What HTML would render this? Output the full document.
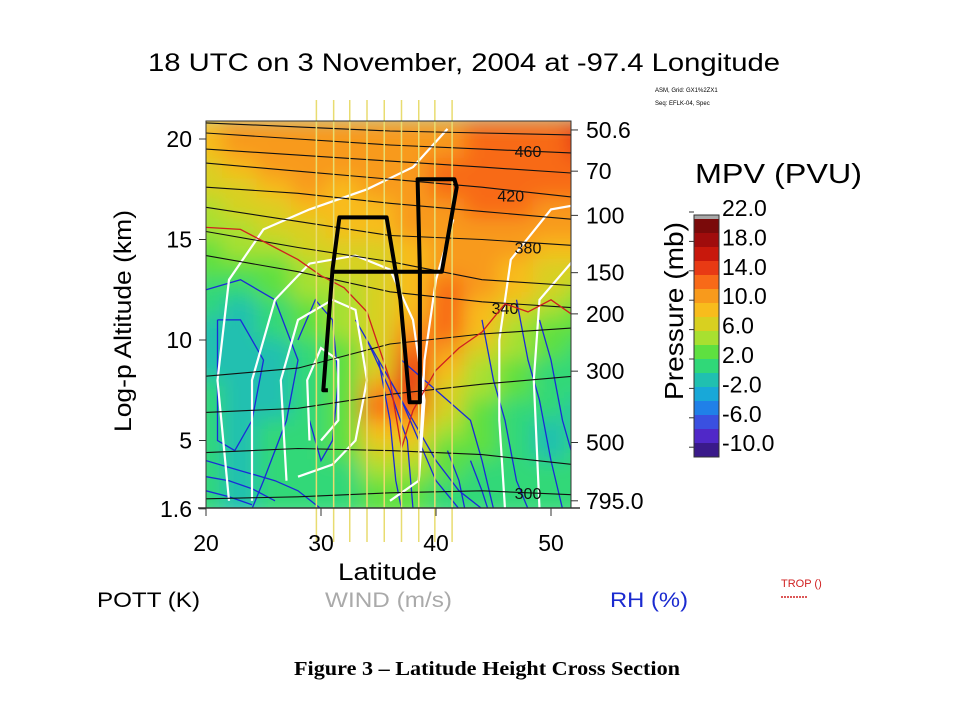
<!DOCTYPE html>
<html><head><meta charset="utf-8"><style>
html,body{margin:0;padding:0;background:#fff;}
svg{display:block;font-family:"Liberation Sans",sans-serif;}
</style></head><body>
<svg id="chart" width="960" height="720" viewBox="0 0 960 720" xmlns="http://www.w3.org/2000/svg">
<defs>
<clipPath id="plotclip"><rect x="206" y="121" width="365" height="387"/></clipPath>
<filter id="blur" x="-5%" y="-5%" width="110%" height="110%"><feGaussianBlur stdDeviation="10"/></filter>
</defs>
<rect width="960" height="720" fill="#fff"/>
<text x="148" y="71" font-size="25" textLength="632" lengthAdjust="spacingAndGlyphs">18 UTC on 3 November, 2004 at -97.4 Longitude</text>
<text x="655" y="92" font-size="6">ASM, Grid: GX1%2ZX1</text>
<text x="655" y="105" font-size="6">Seq: EFLK-04, Spec</text>
<g id="field" clip-path="url(#plotclip)"><g id="cells" filter="url(#blur)"></g></g>
<g id="overlays" clip-path="url(#plotclip)"></g>
<g id="vlines"></g>
<g id="path"></g>
<g id="axes"></g>
<g id="cbar"></g>
<text transform="translate(131,321) rotate(-90)" font-size="24" text-anchor="middle" textLength="222" lengthAdjust="spacingAndGlyphs">Log-p Altitude (km)</text>
<text x="338" y="580" font-size="24" textLength="99" lengthAdjust="spacingAndGlyphs">Latitude</text>
<text transform="translate(683,311) rotate(-90)" font-size="26" text-anchor="middle" textLength="178" lengthAdjust="spacingAndGlyphs">Pressure (mb)</text>
<text x="695" y="183" font-size="28" textLength="167" lengthAdjust="spacingAndGlyphs">MPV (PVU)</text>
<text x="97" y="607" font-size="21" textLength="103" lengthAdjust="spacingAndGlyphs">POTT (K)</text>
<text x="325" y="607" font-size="21" fill="#aaaaaa" textLength="127" lengthAdjust="spacingAndGlyphs">WIND (m/s)</text>
<text x="610" y="607" font-size="21" fill="#1a2ad0" textLength="78" lengthAdjust="spacingAndGlyphs">RH (%)</text>
<text x="781" y="587" font-size="11" fill="#d02020">TROP ()</text>
<line x1="781" y1="597" x2="808" y2="597" stroke="#d02020" stroke-width="1.5" stroke-dasharray="2,1"/>
<text x="294" y="675" font-size="20" font-weight="bold" textLength="386" lengthAdjust="spacingAndGlyphs" font-family="Liberation Serif, serif">Figure 3 – Latitude Height Cross Section</text>
</svg>
<script>
// ---- data ----
const lats = [20,23,26,29,32,35,38,41,44,47,50,53];
const alts = [20.5,19.5,18.5,17.5,16.5,15.5,14.5,13.5,12.5,11.5,10.5,9.5,8.5,7.5,6.5,5.5,4.5,3.5,2.5,1.6];
const mpv = [
[8,10,11,11,10,10,10,11,12,12,13,14],
[8,10,11,11,10,10,10,11,12,12,13,14],
[6,8,10,11,10,10,11,12,12,12,12,12],
[6,7,9,10,9,10,11,12,12,12,12,12],
[5,6,7,8,8,9,10,11,12,12,11,11],
[4,5,6,7,8,8,10,11,11,11,10,10],
[3,4,5,6,7,7,9,11,11,10,9,9],
[2,2,3,5,6,7,9,11,10,9,7,7],
[1,1,2,4,5,6,8,12,10,8,6,5],
[0,-1,0,3,4,6,9,12,9,6,4,3],
[-1,-1,0,2,4,6,10,12,8,5,3,2],
[-1,-2,-1,1,3,6,12,10,6,4,2,1],
[-1,-2,-1,1,3,7,14,8,5,3,1,0],
[0,-1,-1,0,3,10,14,7,4,2,0,0],
[0,-1,-1,0,3,12,12,6,3,1,0,-1],
[0,-1,0,0,2,8,8,4,2,0,-1,0],
[0,-1,0,0,2,6,6,3,2,0,-1,0],
[0,-1,0,0,1,4,4,2,1,0,0,1],
[0,-1,0,0,1,3,3,1,1,0,0,1],
[0,-1,0,0,1,3,3,1,1,0,0,1]];
const cbarLabels = ["22.0","18.0","14.0","10.0","6.0","2.0","-2.0","-6.0","-10.0"];
const cbarColors = ["#a8a8a8","#7a0a0a","#a00c0c","#c8180c","#e83a14","#f86a18","#f89a1c","#f8bc1c","#d8d020","#a8e030","#5ee040","#30d878","#20c0b0","#18a8d8","#2080e8","#3a50e0","#5028c8","#3a1a8a"];
const xTicks = [20,30,40,50];
const yTicks = [20,15,10,5,1.6];
const pTickAlts = [20.45,18.4,16.2,13.35,11.3,8.45,4.9,2.0];
const pTickLabels = ["50.6","70","100","150","200","300","500","795.0"];
const flightLats = [30.6,30.2,31.0,31.6,35.7,36.9,37.7,38.6,38.6,38.4,41.6,41.8,40.5,31.0];
const flightAlts = [7.5,7.5,13.5,16.1,16.1,12.0,6.9,6.9,13.4,18.0,18.0,17.6,13.4,13.4];
const dropLats = [29.6,31.1,32.5,34.0,35.5,37.0,38.5,39.9,41.4];
const thetaLats = [20,28,36,44,52];
const thetaAlts = [
[20.8,20.6,20.4,20.3,20.2],[20.3,20.0,19.7,19.5,19.3],[19.5,19.2,18.9,18.6,18.3],
[18.8,18.4,18.0,17.6,17.1],[17.6,17.3,16.8,16.4,16.0],[16.6,15.9,15.2,15.0,14.7],
[15.4,14.6,13.9,13.0,12.7],[14.2,13.4,12.4,11.9,11.6],[8.2,8.6,9.8,10.3,10.6],
[6.4,6.6,7.3,7.8,8.2],[4.4,4.6,4.5,4.3,3.8],[2.1,2.2,2.4,2.5,2.3]];
const thetaLabels = [["460",48,19.4],["420",46.5,17.2],["380",48,14.6],["340",46,11.6],["300",48,2.4]];
const tropLats = [20,23,26,28,30,32,34,36,37,38,40,42,44,46,48,50,52];
const tropAlts = [15.6,15.5,14.6,14.0,13.2,12.6,11.4,8.0,4.6,6.5,8.5,9.6,10.4,11.8,11.4,12.0,11.2];
const windCurves = [
[[22,2],[21,8],[22,13],[25,15.5],[29,16.5],[34,17.5],[38,18.6],[41,20.5]],
[[24,2],[24,8],[26,12],[29,13.8],[33,14.2],[36,13.5],[38,11],[39,7],[38.5,3],[36,2]],
[[27,3],[26.5,8],[28,11],[31,12],[33,11.5],[34,8],[33,5],[31,3.8],[28,3.2]],
[[29,5],[28.8,8],[30,9.6],[31.5,9],[31.5,6],[30,5]],
[[46,1.6],[45.5,6],[45.5,10],[46.5,14],[50,16.5],[53,16.8]],
[[49,1.6],[48.5,8],[49,12],[52,14]],
[[38.5,3],[39,9],[40,13],[41.5,16]]];
const rhCurves = [
[[20,12.5],[23,13],[26,12],[28,9],[27,6],[25,3],[24,1.6]],
[[21,11],[23,11],[25,9],[24,6],[22.5,4.5],[21,5],[21,9],[21,11]],
[[20,4],[23,3.5],[26,3],[28,2.5],[30,1.6]],
[[20,3.2],[22,3],[24,2.6],[26,2]],
[[20,2.5],[22,2.2],[24,1.8]],
[[28,10],[29.5,12],[31,11],[31.5,8],[31,5],[30,4],[29,6]],
[[33,11],[35,9],[36,6],[36.5,3],[37,1.6]],
[[34,10],[36,7.5],[37.5,5],[38,1.6]],
[[35,9],[37,7],[38.5,5],[40,3],[42,1.6]],
[[36,8],[38,6],[40,4],[42,2.5],[44,1.6]],
[[37,9],[39,8],[41,7],[43,6],[44,4],[45,1.6]],
[[44,11],[45,8],[46,6],[47,3],[48,1.6]],
[[47,12],[48,9],[49,7],[50,4],[51,1.6]],
[[49,11],[50,9],[51,6],[52,4]],
[[43,4],[44,2.5],[44.5,1.6]],[[41,4.5],[42,3],[42.5,1.6]]];

// ---- scales ----
const X = lat => 206 + (lat-20)*11.5;
const Y = z => 139 + (20-z)*20.1;
const NS = "http://www.w3.org/2000/svg";
function mk(tag, attrs, parent){const e=document.createElementNS(NS,tag);for(const k in attrs)e.setAttribute(k,attrs[k]);parent.appendChild(e);return e;}
function colorFor(v){let i=Math.round((22-v)/2);i=Math.max(1,Math.min(cbarColors.length-1,i));return cbarColors[i];}
function pts(arr){return arr.map(p=>X(p[0]).toFixed(1)+","+Y(p[1]).toFixed(1)).join(" ");}

const cells=document.getElementById("cells");
mk("rect",{x:196,y:111,width:385,height:407,fill:"#30d080"},cells);
for(let r=0;r<alts.length;r++){for(let c=0;c<lats.length;c++){
 const x0=X(lats[c]-1.5), y0=Y(alts[r]+0.5);
 const rc=mk("rect",{x:x0-1,y:y0-1,width:3*11.5+2,height:20.1+2,fill:colorFor(mpv[r][c])},cells);
 
 
}}

const ov=document.getElementById("overlays");
rhCurves.forEach(cv=>{const l=mk("polyline",{points:pts(cv),fill:"none",stroke:"#1a2ad8","stroke-width":1.3},ov);
 
 });
windCurves.forEach(cv=>{const l=mk("polyline",{points:pts(cv),fill:"none",stroke:"#ffffff","stroke-width":2.2},ov);
 
 });
thetaAlts.forEach(row=>{const l=mk("polyline",{points:pts(row.map((z,i)=>[thetaLats[i],z])),fill:"none",stroke:"#111","stroke-width":1.1},ov);
 
 });
thetaLabels.forEach(t=>{const tx=mk("text",{x:X(t[1]),y:Y(t[2])+6,"font-size":16,"text-anchor":"middle",fill:"#111"},ov);tx.textContent=t[0];
 
 });
const tr=mk("polyline",{points:pts(tropLats.map((l,i)=>[l,tropAlts[i]])),fill:"none",stroke:"#d02020","stroke-width":1.3},ov);



const vl=document.getElementById("vlines");
dropLats.forEach(l=>{const e=mk("line",{x1:X(l),y1:100,x2:X(l),y2:542,stroke:"#e8dc70","stroke-width":1.5},vl);
 
 });
const fp=mk("polyline",{points:pts(flightLats.map((l,i)=>[l,flightAlts[i]])),fill:"none",stroke:"#000","stroke-width":4,"stroke-linejoin":"round"},document.getElementById("path"));



const ax=document.getElementById("axes");
mk("rect",{x:206,y:121,width:365,height:387,fill:"none",stroke:"#333","stroke-width":1},ax);
mk("line",{x1:198,y1:508,x2:580,y2:508,stroke:"#333","stroke-width":1.5},ax);
xTicks.forEach(v=>{mk("line",{x1:X(v),y1:508,x2:X(v),y2:516,stroke:"#333"},ax);
 const t=mk("text",{x:X(v),y:551,"font-size":23,"text-anchor":"middle"},ax);t.textContent=v;
 
 });
yTicks.forEach(v=>{mk("line",{x1:199,y1:Y(v),x2:206,y2:Y(v),stroke:"#333"},ax);
 const t=mk("text",{x:192,y:Y(v)+8,"font-size":23,"text-anchor":"end"},ax);t.textContent=v;
 
 });
pTickAlts.forEach((z,i)=>{mk("line",{x1:571,y1:Y(z),x2:578,y2:Y(z),stroke:"#333"},ax);
 const t=mk("text",{x:586,y:Y(z)+8,"font-size":23},ax);t.textContent=pTickLabels[i];
 
 });

const cb=document.getElementById("cbar");
const cbTop=215, cbBot=457, grayH=4, bandH=(cbBot-cbTop-grayH)/(cbarColors.length-1);
cbarColors.forEach((c,i)=>{const y0=i===0?cbTop:cbTop+grayH+(i-1)*bandH;const h=i===0?grayH:bandH;
 const r=mk("rect",{x:694,y:y0,width:25,height:h+0.5,fill:c},cb);
 
 });
mk("rect",{x:694,y:cbTop,width:25,height:cbBot-cbTop,fill:"none",stroke:"#333"},cb);
cbarLabels.forEach((s,i)=>{const y=208+i*29.4;
 mk("line",{x1:689,y1:y+4,x2:694,y2:y+4,stroke:"#333"},cb);
 const t=mk("text",{x:722,y:y+8,"font-size":23},cb);t.textContent=s;
 
 });
</script>
</body></html>
